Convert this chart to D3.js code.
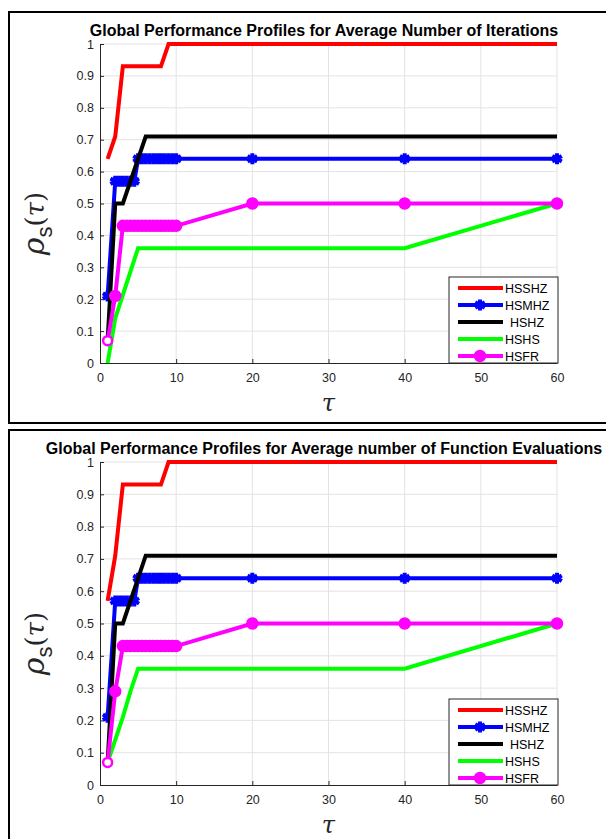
<!DOCTYPE html>
<html>
<head>
<meta charset="utf-8">
<script src="https://cdn.jsdelivr.net/npm/d3@7"></script>
<style>
  body { margin: 0; background: #fff; }
  svg { display: block; }
  text { font-family: Arial, "Liberation Sans", sans-serif; }
</style>
</head>
<body>
<svg id="chart" width="606" height="839"></svg>
<script>
// series names, in legend order
let names = ['HSSHZ', 'HSMHZ', 'HSHZ', 'HSHS', 'HSFR'];
let colors = ['#ff0000', '#0000ff', '#000000', '#00ff00', '#ff00ff'];

let xTicks = [0, 10, 20, 30, 40, 50, 60];
let yTicks = [0, 0.1, 0.2, 0.3, 0.4, 0.5, 0.6, 0.7, 0.8, 0.9, 1];
let yTickLabels = ['0', '0.1', '0.2', '0.3', '0.4', '0.5', '0.6', '0.7', '0.8', '0.9', '1'];

// tau grids
let tauRed = [1, 2, 3, 8, 9, 60];
let tauBlue = [1, 2, 2.5, 3, 3.5, 4, 4.5, 5, 5.5, 6, 6.5, 7, 7.5, 8, 8.5, 9, 9.5, 10, 20, 40, 60];
let tauBlack = [1, 2, 3, 6, 60];
let tauGreenIter = [1, 2, 5, 40, 60];
let tauGreenFunc = [1, 2, 3, 4, 5, 40, 60];
let tauPink = [1, 2, 3, 3.5, 4, 4.5, 5, 5.5, 6, 6.5, 7, 7.5, 8, 8.5, 9, 9.5, 10, 20, 40, 60];

// iterations panel
let iterRed = [0.64, 0.71, 0.93, 0.93, 1, 1];
let iterBlue = [0.21, 0.57, 0.57, 0.57, 0.57, 0.57, 0.57, 0.64, 0.64, 0.64, 0.64, 0.64, 0.64, 0.64, 0.64, 0.64, 0.64, 0.64, 0.64, 0.64, 0.64];
let iterBlack = [0.07, 0.5, 0.5, 0.71, 0.71];
let iterGreen = [0, 0.14, 0.36, 0.36, 0.5];
let iterPink = [0.07, 0.21, 0.43, 0.43, 0.43, 0.43, 0.43, 0.43, 0.43, 0.43, 0.43, 0.43, 0.43, 0.43, 0.43, 0.43, 0.43, 0.5, 0.5, 0.5];

// function evaluations panel
let funcRed = [0.57, 0.71, 0.93, 0.93, 1, 1];
let funcBlue = [0.21, 0.57, 0.57, 0.57, 0.57, 0.57, 0.57, 0.64, 0.64, 0.64, 0.64, 0.64, 0.64, 0.64, 0.64, 0.64, 0.64, 0.64, 0.64, 0.64, 0.64];
let funcBlack = [0.07, 0.5, 0.5, 0.71, 0.71];
let funcGreen = [0.07, 0.14, 0.21, 0.29, 0.36, 0.36, 0.5];
let funcPink = [0.07, 0.29, 0.43, 0.43, 0.43, 0.43, 0.43, 0.43, 0.43, 0.43, 0.43, 0.43, 0.43, 0.43, 0.43, 0.43, 0.43, 0.5, 0.5, 0.5];

let zip = (xs, ys) => xs.map((x, i) => [x, ys[i]]);

let panels = [
  {
    title: 'Global Performance Profiles for Average Number of Iterations',
    frameTop: 12, frameBottom: 423,
    plotTop: 44, plotBottom: 363,
    series: [
      zip(tauRed, iterRed), zip(tauBlue, iterBlue), zip(tauBlack, iterBlack),
      zip(tauGreenIter, iterGreen), zip(tauPink, iterPink)
    ]
  },
  {
    title: 'Global Performance Profiles for Average number of Function Evaluations',
    frameTop: 430, frameBottom: 860,
    plotTop: 462, plotBottom: 785,
    series: [
      zip(tauRed, funcRed), zip(tauBlue, funcBlue), zip(tauBlack, funcBlack),
      zip(tauGreenFunc, funcGreen), zip(tauPink, funcPink)
    ]
  }
];

let svg = d3.select('#chart');
let plotLeft = 100;
let plotRight = 557;

function drawMarkers (g, pts, i, x, y) {
  if (i === 1) {
    // MATLAB '*' markers drawn thick, they look like blobs
    g.selectAll('path.star')
      .data(pts)
      .enter().append('path')
      .attr('class', 'star')
      .attr('d', d3.symbol(d3.symbolAsterisk, 85))
      .attr('transform', d => 'translate(' + x(d[0]) + ',' + y(d[1]) + ')')
      .attr('fill', 'none')
      .attr('stroke', colors[i])
      .attr('stroke-width', 4);
  } else if (i === 4) {
    g.selectAll('circle.dot')
      .data(pts)
      .enter().append('circle')
      .attr('class', 'dot')
      .attr('cx', d => x(d[0]))
      .attr('cy', d => y(d[1]))
      .attr('r', (d, j) => j === 0 ? 4.5 : 5)
      .attr('fill', (d, j) => j === 0 ? '#fff' : colors[i])
      .attr('stroke', colors[i])
      .attr('stroke-width', 2.5);
  }
}

function drawPanel (p) {
  let g = svg.append('g');

  // outer frame
  g.append('rect')
    .attr('x', 9).attr('y', p.frameTop)
    .attr('width', 620).attr('height', p.frameBottom - p.frameTop)
    .attr('fill', 'none').attr('stroke', '#000').attr('stroke-width', 2);

  let x = d3.scaleLinear().domain([0, 60]).range([plotLeft, plotRight]);
  let y = d3.scaleLinear().domain([0, 1]).range([p.plotBottom, p.plotTop]);

  // grid
  g.append('g').selectAll('line')
    .data(xTicks.slice(1))
    .enter().append('line')
    .attr('x1', d => x(d)).attr('x2', d => x(d))
    .attr('y1', p.plotTop).attr('y2', p.plotBottom)
    .attr('stroke', '#e3e3e3').attr('stroke-width', 1);
  g.append('g').selectAll('line')
    .data(yTicks.slice(1))
    .enter().append('line')
    .attr('x1', plotLeft).attr('x2', plotRight)
    .attr('y1', d => y(d)).attr('y2', d => y(d))
    .attr('stroke', '#e3e3e3').attr('stroke-width', 1);

  // axes, ticks inside like MATLAB
  let xAxis = g.append('g')
    .attr('transform', 'translate(0,' + p.plotBottom + ')')
    .call(d3.axisBottom(x).tickValues(xTicks).tickSizeInner(-4).tickSizeOuter(0).tickPadding(10));
  let yAxis = g.append('g')
    .attr('transform', 'translate(' + plotLeft + ',0)')
    .call(d3.axisLeft(y).tickValues(yTicks).tickFormat((d, i) => yTickLabels[i])
      .tickSizeInner(-4).tickSizeOuter(0).tickPadding(6));
  [xAxis, yAxis].forEach(a => {
    a.select('.domain').attr('stroke', '#262626').attr('stroke-width', 1);
    a.selectAll('.tick line').attr('stroke', '#262626');
    a.selectAll('.tick text')
      .attr('fill', '#262626')
      .style('font-size', '12.5px')
      .style('font-family', 'Arial, "Liberation Sans", sans-serif');
  });

  // series lines
  let line = d3.line().x(d => x(d[0])).y(d => y(d[1]));
  // draw order: MATLAB plots red first, pink last on top
  p.series.forEach((pts, i) => {
    let sg = g.append('g');
    sg.append('path')
      .attr('d', line(pts))
      .attr('fill', 'none')
      .attr('stroke', colors[i])
      .attr('stroke-width', 4)
      .attr('stroke-linejoin', 'miter');
    drawMarkers(sg, pts, i, x, y);
  });

  // title
  g.append('text')
    .attr('x', 324).attr('y', p.frameTop + 24)
    .attr('text-anchor', 'middle')
    .style('font-weight', 'bold')
    .style('font-size', '16px')
    .attr('fill', '#000')
    .text(p.title);

  // axis labels
  let ymid = (p.plotTop + p.plotBottom) / 2 + 20;
  let yl = g.append('text')
    .attr('transform', 'translate(44,' + ymid + ') rotate(-90)')
    .attr('text-anchor', 'middle')
    .attr('fill', '#262626');
  yl.append('tspan')
    .style('font-family', '"DejaVu Serif", serif')
    .style('font-style', 'italic')
    .style('font-size', '30px')
    .text('ρ');
  yl.append('tspan')
    .attr('dy', 8)
    .style('font-size', '22px')
    .text('s');
  yl.append('tspan')
    .attr('dy', -8)
    .style('font-family', '"DejaVu Serif", serif')
    .style('font-size', '26px')
    .text('(');
  yl.append('tspan')
    .style('font-family', '"DejaVu Serif", serif')
    .style('font-style', 'italic')
    .style('font-size', '26px')
    .text('τ');
  yl.append('tspan')
    .style('font-family', '"DejaVu Serif", serif')
    .style('font-size', '26px')
    .text(')');

  g.append('text')
    .attr('x', (plotLeft + plotRight) / 2).attr('y', p.plotBottom + 48)
    .attr('text-anchor', 'middle')
    .attr('fill', '#262626')
    .style('font-family', '"DejaVu Serif", serif')
    .style('font-style', 'italic')
    .style('font-size', '24px')
    .text('τ');

  // legend
  let lgX = 449, lgY = p.plotBottom - 86, lgW = 109, lgH = 86;
  let lg = g.append('g').attr('transform', 'translate(' + lgX + ',' + lgY + ')');
  lg.append('rect')
    .attr('width', lgW).attr('height', lgH)
    .attr('fill', '#fff').attr('stroke', '#262626').attr('stroke-width', 1);
  names.forEach((name, i) => {
    let ry = 11 + i * 17;
    let row = lg.append('g').attr('transform', 'translate(0,' + ry + ')');
    row.append('line')
      .attr('x1', 9).attr('x2', 54)
      .attr('stroke', colors[i]).attr('stroke-width', 4);
    if (i === 1) {
      row.append('path')
        .attr('d', d3.symbol(d3.symbolAsterisk, 85))
        .attr('transform', 'translate(31,0)')
        .attr('fill', 'none').attr('stroke', colors[i]).attr('stroke-width', 4);
    } else if (i === 4) {
      row.append('circle')
        .attr('cx', 31).attr('r', 5)
        .attr('fill', colors[i]).attr('stroke', colors[i]).attr('stroke-width', 2.5);
    }
    row.append('text')
      .attr('x', i === 2 ? 61 : 56).attr('y', 4.5)
      .attr('fill', '#000')
      .style('font-size', '12.5px')
      .text(name);
  });
}

panels.forEach(drawPanel);
</script>
</body>
</html>
